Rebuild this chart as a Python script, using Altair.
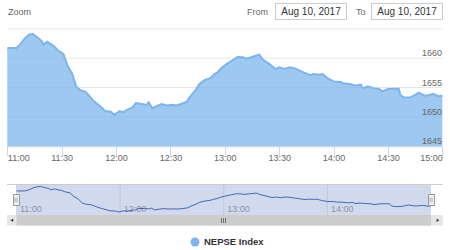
import altair as alt
import pandas as pd

# ---------------- data ----------------
times = ["11:00", "11:05", "11:07", "11:10", "11:12", "11:14", "11:16", "11:19", "11:20", "11:22",
         "11:24", "11:26", "11:28", "11:31", "11:33", "11:36", "11:38", "11:40", "11:43", "11:45",
         "11:47", "11:49", "11:52", "11:54", "11:57", "11:59", "12:02", "12:04", "12:06", "12:09",
         "12:11", "12:14", "12:17", "12:18", "12:20", "12:22", "12:25", "12:28", "12:31", "12:33",
         "12:36", "12:39", "12:41", "12:44", "12:46", "12:49", "12:52", "12:54", "12:56", "12:58",
         "13:01", "13:04", "13:07", "13:10", "13:12", "13:15", "13:18", "13:19", "13:21", "13:25",
         "13:28", "13:30", "13:33", "13:36", "13:39", "13:41", "13:44", "13:47", "13:49", "13:52",
         "13:54", "13:57", "14:00", "14:04", "14:05", "14:09", "14:12", "14:15", "14:16", "14:19",
         "14:22", "14:25", "14:27", "14:30", "14:33", "14:36", "14:37", "14:39", "14:42", "14:45",
         "14:47", "14:50", "14:52", "14:55", "14:58", "15:00"]
values = [1661.75, 1661.75, 1662.3, 1663.5, 1664.0, 1664.15, 1663.7, 1662.9, 1662.3, 1662.8,
          1662.4, 1662.0, 1661.3, 1660.7, 1658.9, 1657.2, 1655.2, 1654.6, 1654.3, 1653.65,
          1652.9, 1652.35, 1651.6, 1651.0, 1650.9, 1650.35, 1651.0, 1650.8, 1651.2, 1651.6,
          1652.35, 1652.2, 1652.05, 1652.5, 1651.5, 1651.8, 1652.2, 1651.95, 1652.05, 1651.95,
          1652.2, 1652.6, 1653.5, 1654.6, 1655.6, 1656.3, 1656.6, 1657.2, 1657.6, 1658.3,
          1659.0, 1659.6, 1660.2, 1660.15, 1659.9, 1660.2, 1660.5, 1660.6, 1659.75, 1658.9,
          1658.15, 1658.45, 1658.15, 1658.45, 1658.2, 1657.9, 1657.5, 1657.1, 1657.3, 1657.2,
          1657.3, 1656.5, 1656.05, 1655.95, 1655.75, 1655.6, 1655.3, 1655.5, 1654.9, 1655.2,
          1654.9, 1654.8, 1654.35, 1654.75, 1654.8, 1654.8, 1653.65, 1653.3, 1653.3, 1653.75,
          1654.15, 1653.65, 1653.65, 1653.95, 1653.5, 1653.65]
x_tick_labels = ["11:00", "11:30", "12:00", "12:30", "13:00", "13:30", "14:00", "14:30", "15:00"]
nav_tick_labels = ["11:00", "12:00", "13:00", "14:00"]
y_grid_values = [1650, 1655, 1660, 1665]
y_label_values = [1645, 1650, 1655, 1660]
date_label = "Aug 10, 2017"
series_name = "NEPSE Index"

FONT = "Liberation Sans"
SERIES = "#7cb5ec"


def to_min(s):
    h, m = s.split(":")
    return int(h) * 60 + int(m) - 660


df = pd.DataFrame({"t": [to_min(s) for s in times], "v": values})
grid_df = pd.DataFrame({"g": y_grid_values})
ylab_df = pd.DataFrame({"g": y_label_values, "lab": [str(v) for v in y_label_values]})
nav_df = pd.DataFrame({"t": [to_min(s) for s in nav_tick_labels], "lab": nav_tick_labels})
one = pd.DataFrame({"k": [0]})

mx = alt.Scale(domain=[0, 240], range=[7.3, 442.3], nice=False, zero=False)
my = alt.Scale(domain=[1645, 1665], range=[146.3, 28.8], nice=False, zero=False)
nx = alt.Scale(domain=[0, 240], range=[16.5, 431], nice=False, zero=False)
ny = alt.Scale(domain=[min(values), max(values)], range=[212, 186.5], nice=False, zero=False)

label_expr = "(floor(datum.value/60)+11) + ':' + (datum.value % 60 < 10 ? '0' : '') + (datum.value % 60)"


def box(x1, x2, y1, y2, fill, stroke=None, opacity=1):
    kw = dict(fill=fill, fillOpacity=opacity)
    if stroke:
        kw.update(stroke=stroke, strokeWidth=1)
    return alt.Chart(one).mark_rect(**kw).encode(
        x=alt.value(x1), x2=alt.value(x2), y=alt.value(y1), y2=alt.value(y2))


def label(txt, x, y, size=9, color="#666666", align="left", bold=False, font=FONT):
    return alt.Chart(one).mark_text(text=txt, font=font, fontSize=size, color=color, align=align,
                                    baseline="middle", fontWeight="bold" if bold else "normal").encode(
        x=alt.value(x), y=alt.value(y))


def hline(x1, x2, y, color):
    return alt.Chart(one).mark_rule(color=color, strokeWidth=1).encode(
        x=alt.value(x1), x2=alt.value(x2), y=alt.value(y))


def vline(x, y1, y2, color, width=1):
    return alt.Chart(one).mark_rule(color=color, strokeWidth=width).encode(
        x=alt.value(x), y=alt.value(y1), y2=alt.value(y2))


layers = []

# header (range selector)
layers += [
    label("Zoom", 8, 11.5, size=9),
    label("From", 247, 11.5, size=9),
    label("To", 356, 11.5, size=9),
    box(275.5, 346.5, 3.5, 19.5, "white", "#cccccc"),
    box(371.5, 442.5, 3.5, 19.5, "white", "#cccccc"),
    label(date_label, 311, 11.5, size=10, color="#333333", align="center"),
    label(date_label, 407, 11.5, size=10, color="#333333", align="center"),
]

# main gridlines
layers.append(alt.Chart(grid_df).mark_rule(color="#e6e6e6", strokeWidth=1).encode(
    y=alt.Y("g:Q", scale=my, axis=None), x=alt.value(7.3), x2=alt.value(442.3)))

# main area + line
layers.append(alt.Chart(df).mark_area(color=SERIES, fillOpacity=0.75).encode(
    x=alt.X("t:Q", scale=mx, axis=alt.Axis(
        orient="bottom", values=[to_min(s) for s in x_tick_labels], labelExpr=label_expr,
        offset=-103.7, tickSize=9, tickColor="#ccd6eb", domainColor="#ccd6eb",
        labelColor="#666666", labelFont=FONT, labelFontSize=9, labelPadding=2.5,
        labelBaseline="middle", labelFlush=True, labelOverlap=False, grid=False, title=None)),
    y=alt.Y("v:Q", scale=my, axis=None),
    y2=alt.datum(1645)))
layers.append(alt.Chart(df).mark_line(color=SERIES, strokeWidth=2).encode(
    x=alt.X("t:Q", scale=mx, axis=None), y=alt.Y("v:Q", scale=my, axis=None)))

# y labels inside plot, right side
layers.append(alt.Chart(ylab_df).mark_text(font=FONT, fontSize=9, color="#666666", align="right",
                                           baseline="alphabetic", dy=-2).encode(
    y=alt.Y("g:Q", scale=my, axis=None), x=alt.value(442), text="lab:N"))

# navigator
layers.append(hline(7, 443, 184.5, "#cccccc"))
layers.append(alt.Chart(nav_df).mark_rule(color="#e6e6e6", strokeWidth=1).encode(
    x=alt.X("t:Q", scale=nx, axis=None), y=alt.value(185), y2=alt.value(215)))
layers.append(alt.Chart(nav_df).mark_text(font=FONT, fontSize=9, color="#999999", align="left",
                                          baseline="middle", dx=3.5).encode(
    x=alt.X("t:Q", scale=nx, axis=None), y=alt.value(208.5), text="lab:N"))
layers.append(alt.Chart(df).mark_line(color="#335cad", strokeWidth=1).encode(
    x=alt.X("t:Q", scale=nx, axis=None), y=alt.Y("v:Q", scale=ny, axis=None)))
layers.append(box(16.5, 431, 185, 215, "#6685c2", opacity=0.3))

# scrollbar
layers += [
    box(7, 443, 215, 225.5, "#e6e6e6"),
    box(16.5, 431, 215, 225.5, "#cccccc"),
    alt.Chart(one).mark_point(shape="triangle-left", filled=True, size=10, color="#333333", opacity=1).encode(
        x=alt.value(11.8), y=alt.value(220.3)),
    alt.Chart(one).mark_point(shape="triangle-right", filled=True, size=10, color="#333333", opacity=1).encode(
        x=alt.value(438), y=alt.value(220.3)),
    vline(221.5, 218, 223, "#555555", 0.8),
    vline(223.5, 218, 223, "#555555", 0.8),
    vline(225.5, 218, 223, "#555555", 0.8),
]

# handles
for cx in (16.5, 431.5):
    layers += [
        box(cx - 3, cx + 3, 194.5, 205.5, "#f2f2f2", "#999999"),
        vline(cx - 0.5 - 1, 197.5, 202.5, "#999999", 0.8),
        vline(cx + 0.5 + 0, 197.5, 202.5, "#999999", 0.8),
    ]

# legend
layers.append(alt.Chart(one).mark_point(shape="circle", filled=True, size=80, color=SERIES, opacity=1).encode(
    x=alt.value(195), y=alt.value(242)))
layers.append(label(series_name, 204, 242, size=9.5, color="#333333", bold=True))

chart = alt.layer(*layers).resolve_scale(x="independent", y="independent").properties(
    width=450, height=250, autosize=alt.AutoSizeParams(type="none"), padding=0
).configure_view(stroke=None)

chart.save("out.html", embed_options={"renderer": "svg", "actions": False})
